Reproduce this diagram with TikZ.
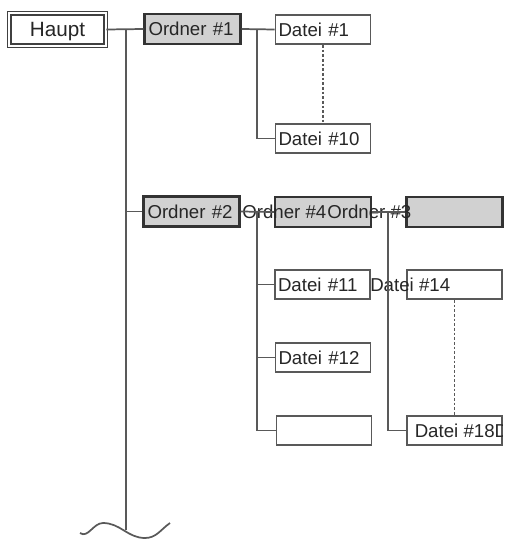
\documentclass[tikz,border=0pt]{standalone}
\usepackage{fontspec}
\setmainfont{Liberation Sans}
\begin{document}
\begin{tikzpicture}[x=0.75pt,y=-0.75pt,
  every node/.style={font=\fontsize{14}{16}\selectfont, text=black!85},
  conn/.style={draw=black!65, line width=1.3pt},
  dots/.style={draw=black!65, line width=1.2pt, dash pattern=on 2pt off 1.5pt},
  dateibox/.style={rectangle, draw=black!65, line width=1.2pt, fill=white,
    minimum width=71.25pt, minimum height=22pt, text width=66.75pt,
    inner xsep=2.25pt, inner ysep=0pt, align=left},
  ordnerbox/.style={rectangle, draw=black!80, line width=1.8pt, fill=black!18,
    minimum width=72pt, minimum height=22.5pt, text width=66pt,
    inner xsep=3pt, inner ysep=0pt, align=left},
  hauptbox/.style={rectangle, draw=black!75, double, line width=0.9pt,
    double distance=1.6pt, minimum width=72.3pt, minimum height=24.3pt, fill=white,
    font=\fontsize{15.5}{17}\selectfont, text height=11pt, text depth=0pt},
  lbl/.style={inner sep=0pt, anchor=west}
]
\useasboundingbox (0,0) rectangle (509,540);

% boxes
\node[hauptbox] (haupt) at (57.5,29.5) {Haupt};
\node[ordnerbox] (o1) at (192.5,29) {Ordner \#1};
\node[dateibox] (d1) at (323,29.5) {Datei \#1};
\node[dateibox] (d10) at (323,138.5) {Datei \#10};
\node[ordnerbox] (o2) at (191.5,211.5) {Ordner \#2};
\node[ordnerbox] (o4) at (323,212) {};
\node[ordnerbox] (o3) at (454.5,212) {};
\node[dateibox] (d11) at (322.5,284.5) {Datei \#11};
\node[dateibox] (d14) at (454.5,284.5) {};
\node[dateibox] (d12) at (323,357.5) {Datei \#12};
\node[dateibox] (de) at (324,430.5) {};
\node[dateibox] (d18) at (454.5,430.5) {};

% displaced labels
\node[lbl] (l4) at (242,211.5) {Ordner \#4};
\node[lbl] (l3) at (327,211.5) {Ordner \#3};
\node[lbl] (l14) at (370,284.5) {Datei \#14};
\begin{scope}
  \clip (d18.north west) rectangle (d18.south east);
  \node[lbl] (l18) at (414.5,431) {Datei \#18D};
\end{scope}

% coordinates
\coordinate (t1) at (126,29);
\coordinate (tb) at (126,530);
\coordinate (b1) at (257,29);
\coordinate (b2) at (257,211.5);
\coordinate (b3) at (388,211.5);

% connectors
\draw[conn] (haupt.east) -- (o1.west);
\draw[conn] (t1) -- (tb);
\draw[conn] (o2.west) -- (o2.west -| t1);
\draw[conn] (o1.east) -- (d1.west);
\draw[conn] (b1) |- (d10.west);
\draw[dots] (d1.south) -- (d10.north);
\draw[conn] (o2.east) -- (o4.west);
\draw[conn] (b2) |- (de.west);
\draw[conn] (d11.west) -- (d11.west -| b2);
\draw[conn] (d12.west) -- (d12.west -| b2);
\draw[conn] (o4.east) -- (o3.west);
\draw[conn] (b3) |- (d18.west);
\draw[dots] (d14.south) -- (d18.north);

% wave
\draw[conn] (80,533) to[out=-35,in=180] (103,523) to[out=0,in=180] (145,538) to[out=0,in=215] (170,523);
\end{tikzpicture}
\end{document}
